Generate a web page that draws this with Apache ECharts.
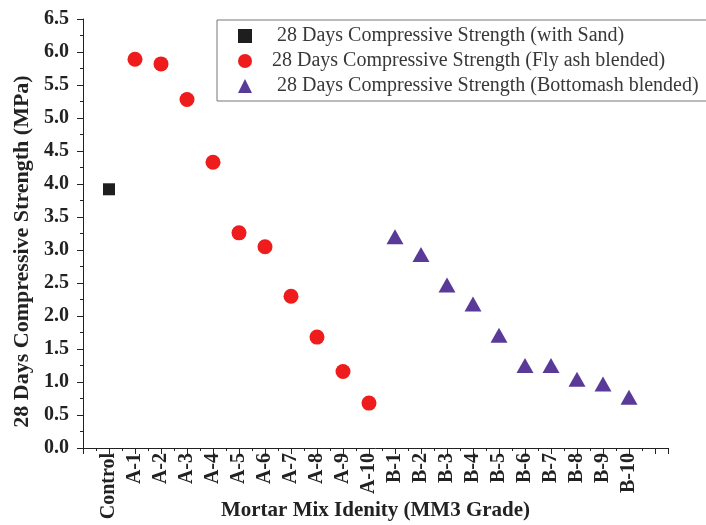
<!DOCTYPE html>
<html>
<head>
<meta charset="utf-8">
<script src="https://cdn.jsdelivr.net/npm/echarts@6/dist/echarts.min.js"></script>
<style>html,body{margin:0;padding:0;background:#fff}#c{width:706px;height:525px}</style>
</head>
<body>
<div id="c"></div>
<script>
// Data
const categories = ['Control','A-1','A-2','A-3','A-4','A-5','A-6','A-7','A-8','A-9','A-10',
  'B-1','B-2','B-3','B-4','B-5','B-6','B-7','B-8','B-9','B-10'];
const sandCats = ['Control'];
const sandValues = [3.92];
const flyAshCats = ['A-1','A-2','A-3','A-4','A-5','A-6','A-7','A-8','A-9','A-10'];
const flyAshValues = [5.89, 5.82, 5.28, 4.33, 3.26, 3.05, 2.30, 1.68, 1.16, 0.68];
const bottomAshCats = ['B-1','B-2','B-3','B-4','B-5','B-6','B-7','B-8','B-9','B-10'];
const bottomAshValues = [3.20, 2.93, 2.47, 2.18, 1.71, 1.25, 1.25, 1.04, 0.97, 0.77];
const yTicks = [0,0.5,1,1.5,2,2.5,3,3.5,4,4.5,5,5.5,6,6.5];
const seriesNames = ['28 Days Compressive Strength (with Sand)',
  '28 Days Compressive Strength (Fly ash blended)',
  '28 Days Compressive Strength (Bottomash blended)'];

function toPoints(cats, vals) {
  return cats.map((c, i) => [categories.indexOf(c) + 1, vals[i]]);
}

const serif = '"Liberation Serif", "Times New Roman", serif';
const chart = echarts.init(document.getElementById('c'), null, {renderer: 'canvas'});
chart.setOption({
  animation: false,
  backgroundColor: '#fff',
  grid: {left: 83, right: 38, top: 19, bottom: 77, containLabel: false, outerBoundsMode: 'none'},
  legend: {
    orient: 'vertical',
    left: 217, top: 20,
    padding: [6, 30, 5, 21],
    itemGap: 5,
    itemWidth: 14, itemHeight: 14,
    borderColor: '#777', borderWidth: 1,
    textStyle: {fontFamily: serif, fontSize: 20, lineHeight: 20, color: '#383838', padding: [0,0,0,20]},
    data: [
      {name: seriesNames[0]},
      {name: seriesNames[1], textStyle: {padding: [0,0,0,15]}},
      {name: seriesNames[2]}
    ]
  },
  xAxis: {
    type: 'value', min: 0, max: 22.5, interval: 1,
    name: 'Mortar Mix Idenity (MM3 Grade)', nameLocation: 'middle', nameGap: 52, nameMoveOverlap: false,
    nameTextStyle: {fontFamily: serif, fontSize: 21, fontWeight: 'bold', color: '#222'},
    axisLine: {show: true, lineStyle: {color: '#222', width: 1}},
    axisTick: {show: true, inside: false, length: 6, lineStyle: {color: '#222'}},
    minorTick: {show: true, splitNumber: 2, length: 3, lineStyle: {color: '#222'}},
    splitLine: {show: false},
    axisLabel: {
      rotate: 90, margin: 5, fontFamily: serif, fontSize: 20, fontWeight: 'bold', color: '#222',
      formatter: v => (Number.isInteger(v) && v >= 1 && v <= categories.length) ? categories[v - 1] : ''
    }
  },
  yAxis: {
    type: 'value', min: 0, max: 6.5, interval: 0.5,
    name: '28 Days Compressive Strength (MPa)', nameLocation: 'middle', nameGap: 50, nameRotate: 90,
    nameMoveOverlap: false,
    nameTextStyle: {fontFamily: serif, fontSize: 22, fontWeight: 'bold', color: '#222', padding: [0, 36, 0, 0]},
    axisLine: {show: true, lineStyle: {color: '#222', width: 1}},
    axisTick: {show: true, inside: false, length: 6, lineStyle: {color: '#222'}},
    minorTick: {show: true, splitNumber: 2, length: 3, lineStyle: {color: '#222'}},
    splitLine: {show: false},
    axisLabel: {margin: 14, fontFamily: serif, fontSize: 20, fontWeight: 'bold', color: '#222',
      formatter: v => v.toFixed(1)}
  },
  series: [
    {name: seriesNames[0], type: 'scatter', symbol: 'rect', symbolSize: 12,
     itemStyle: {color: '#1e1e1e', opacity: 1}, data: toPoints(sandCats, sandValues)},
    {name: seriesNames[1], type: 'scatter', symbol: 'circle', symbolSize: 15,
     itemStyle: {color: '#ee1c1c', opacity: 1}, data: toPoints(flyAshCats, flyAshValues)},
    {name: seriesNames[2], type: 'scatter', symbol: 'triangle', symbolSize: [17, 15],
     itemStyle: {color: '#5a3a99', opacity: 1}, data: toPoints(bottomAshCats, bottomAshValues)}
  ]
});
</script>
</body>
</html>
